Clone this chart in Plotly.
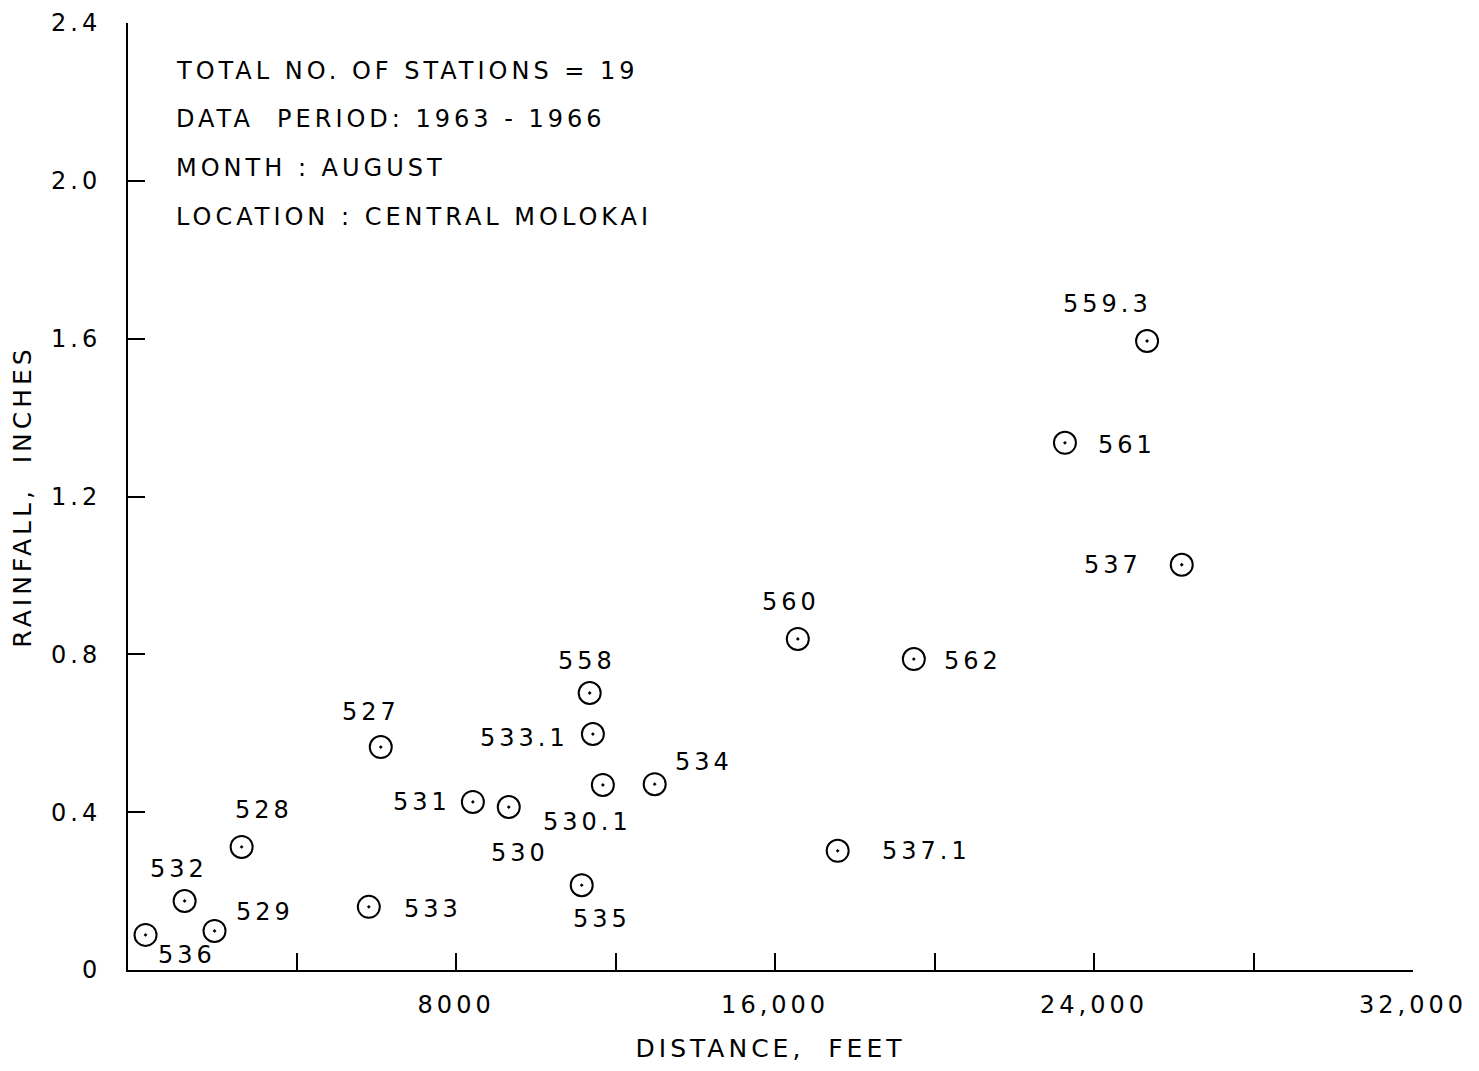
import plotly.graph_objects as go

# Station data (distance in feet, August rainfall in inches)
stations = ["536", "532", "529", "528", "533", "527", "531", "530", "535",
            "558", "533.1", "530.1", "534", "560", "537.1", "562", "561", "559.3", "537"]
distance_ft = [210, 1190, 1940, 2620, 5810, 6110, 8420, 9320, 11150,
               11350, 11430, 11680, 12980, 16570, 17570, 19480, 23270, 25330, 26200]
rainfall_in = [0.089, 0.175, 0.099, 0.312, 0.160, 0.565, 0.426, 0.413, 0.215,
               0.702, 0.598, 0.469, 0.471, 0.839, 0.302, 0.788, 1.336, 1.594, 1.027]

x_tick_vals = [4000, 8000, 12000, 16000, 20000, 24000, 28000, 32000]
x_tick_text = ["", "8000", "", "16,000", "", "24,000", "", "32,000"]
y_tick_vals = [0, 0.4, 0.8, 1.2, 1.6, 2.0, 2.4]
y_tick_text = ["0", "0.4", "0.8", "1.2", "1.6", "2.0", "2.4"]

info_lines = ["TOTAL NO. OF STATIONS = 19",
              "DATA  PERIOD: 1963 - 1966",
              "MONTH : AUGUST",
              "LOCATION : CENTRAL MOLOKAI"]

# label offsets in pixels (layout only)
label_offsets = {
    "536": (39, -20), "532": (-8, 32), "529": (48, 19), "528": (20, 37),
    "533": (62, -2), "527": (-12, 35), "531": (-53, 0), "530": (9, -46),
    "535": (18, -34), "558": (-5, 32), "533.1": (-70, -4), "530.1": (-17, -37),
    "534": (47, 22), "560": (-9, 37), "537.1": (87, 0), "562": (57, -2),
    "561": (60, -2), "559.3": (-42, 37), "537": (-71, 0),
}

FONT = "DejaVu Sans"
LS = 4.0  # letter spacing (px) applied to all svg text

# page body has an 8px margin
W, H = 1463, 1055
L, R, T, B = 120, 58, 15, 93
pw, ph = W - L - R, H - T - B
OFF = 8

fig = go.Figure()
fig.add_trace(go.Scatter(
    x=distance_ft, y=rainfall_in, mode="markers",
    marker=dict(symbol="circle-open-dot", size=22, color="black",
                line=dict(color="black", width=2)),
    showlegend=False, hoverinfo="skip", cliponaxis=False))

annotations = []
for name, xv, yv in zip(stations, distance_ft, rainfall_in):
    dx, dy = label_offsets[name]
    annotations.append(dict(x=xv, y=yv, xref="x", yref="y", text=name,
                            showarrow=False, xshift=dx + LS / 2, yshift=dy,
                            font=dict(family=FONT, size=24, color="black")))

for i, line in enumerate(info_lines):
    px, py = 174 - OFF, 71 + i * 48.5 - OFF
    annotations.append(dict(x=(px - L) / pw, y=1 - (py - T) / ph,
                            xref="paper", yref="paper",
                            text=line, showarrow=False, xanchor="left", yanchor="middle",
                            xshift=len(line) * LS / 2,
                            font=dict(family=FONT, size=24, color="black")))

fig.update_layout(
    template="none",
    width=W, height=H,
    margin=dict(l=L, r=R, t=T, b=B, autoexpand=False),
    paper_bgcolor="white", plot_bgcolor="white",
    font=dict(family=FONT, size=24, color="black"),
    annotations=annotations,
    showlegend=False,
    xaxis=dict(range=[-230, 32000], showgrid=False, zeroline=False, automargin=False,
               showline=True, linecolor="black", linewidth=2, mirror=False,
               ticks="inside", ticklen=17, tickwidth=2, tickcolor="black",
               tickvals=x_tick_vals, ticktext=x_tick_text,
               tickfont=dict(family=FONT, size=24),
               ticklabelstandoff=12,
               title=dict(text="DISTANCE,  FEET", standoff=24,
                          font=dict(family=FONT, size=25))),
    yaxis=dict(range=[0, 2.4], showgrid=False, zeroline=False, automargin=False,
               showline=True, linecolor="black", linewidth=2, mirror=False,
               ticks="inside", ticklen=17, tickwidth=2, tickcolor="black",
               tickvals=y_tick_vals, ticktext=y_tick_text,
               tickfont=dict(family=FONT, size=24),
               ticklabelstandoff=20,
               title=dict(text="RAINFALL,  INCHES", standoff=26,
                          font=dict(family=FONT, size=25))),
)

spacing_js = """
document.querySelectorAll('.main-svg text').forEach(function(t){
  t.style.letterSpacing = '%spx';
});
""" % LS

fig.write_html("out.html", post_script=spacing_js)
